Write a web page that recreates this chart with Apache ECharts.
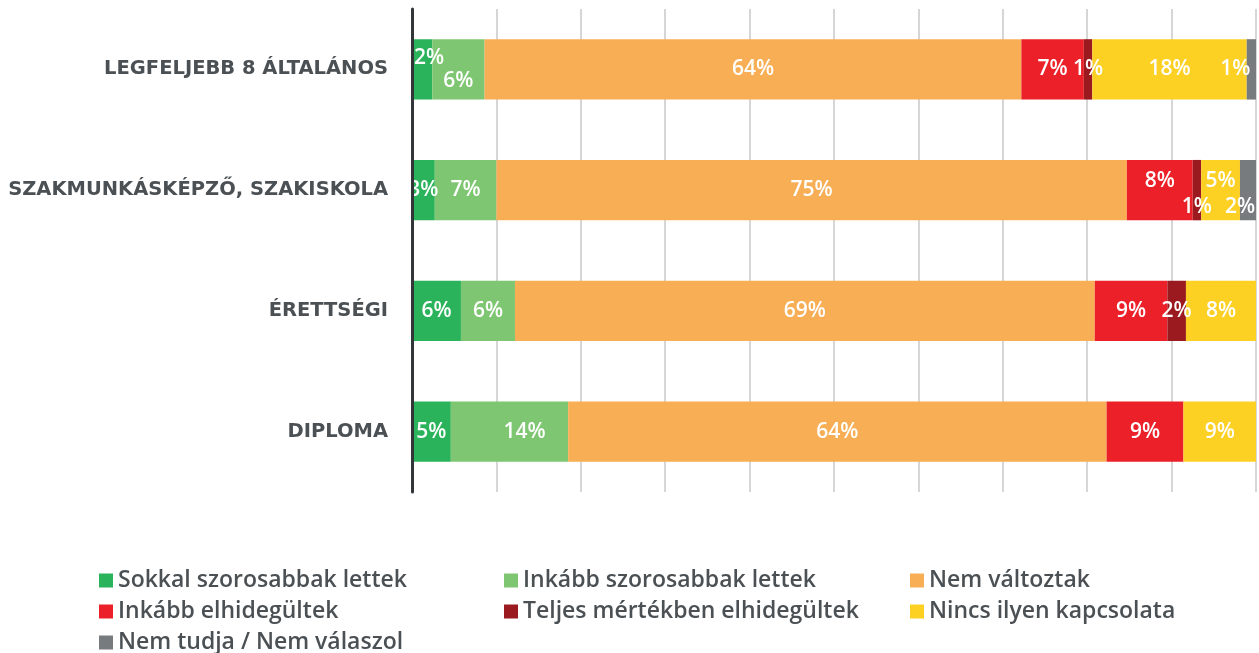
<!DOCTYPE html>
<html>
<head>
<meta charset="utf-8">
<script src="https://cdn.jsdelivr.net/npm/echarts@6/dist/echarts.min.js"></script>
<style>
  html, body { margin: 0; padding: 0; background: #fff; }
  #chart { width: 1259px; height: 653px; }
</style>
</head>
<body>
<div id="chart"></div>
<script>
// Education levels (top to bottom)
const categories = [
  'LEGFELJEBB 8 ÁLTALÁNOS',
  'SZAKMUNKÁSKÉPZŐ, SZAKISKOLA',
  'ÉRETTSÉGI',
  'DIPLOMA'
];

// Answer shares in percent, one array per answer, in category order
const sokkalSzorosabbak   = [2.4, 2.7, 5.8, 4.6];
const inkabbSzorosabbak   = [6.2, 7.3, 6.4, 13.9];
const nemValtoztak        = [63.6, 74.7, 68.7, 63.8];
const inkabbElhidegultek  = [7.4, 7.8, 8.6, 9.1];
const teljesenElhidegultek = [1.0, 1.0, 2.2, 0];
const nincsKapcsolata     = [18.3, 4.6, 8.3, 8.6];
const nemTudja            = [1.1, 1.9, 0, 0];

const seriesNames = [
  'Sokkal szorosabbak lettek',
  'Inkább szorosabbak lettek',
  'Nem változtak',
  'Inkább elhidegültek',
  'Teljes mértékben elhidegültek',
  'Nincs ilyen kapcsolata',
  'Nem tudja / Nem válaszol'
];
const seriesValues = [
  sokkalSzorosabbak, inkabbSzorosabbak, nemValtoztak,
  inkabbElhidegultek, teljesenElhidegultek, nincsKapcsolata, nemTudja
];
const colors = ['#2ab35b', '#7ec671', '#f7ae55', '#ec2029', '#9b1a20', '#fdd024', '#787b7d'];

// Nudges for labels of narrow segments so they don't collide: [series][category] -> [dx, dy]
const labelNudge = {
  '0-0': [7, -11], '1-0': [0, 12],
  '6-0': [-16, 0],
  '3-1': [0, -9], '4-1': [0, 17], '5-1': [0, -9], '6-1': [-8, 17],
  '1-3': [15, 0]
};

const series = seriesNames.map((name, si) => ({
  name,
  type: 'bar',
  stack: 'total',
  barWidth: '50%',
  itemStyle: { color: colors[si] },
  label: {
    show: true,
    position: 'inside',
    color: '#fff',
    fontFamily: 'Open Sans',
    fontWeight: 600,
    fontSize: 21,
    formatter: p => (p.value > 0 ? Math.round(p.value) + '%' : '')
  },
  data: seriesValues[si].map((v, ci) => {
    const n = labelNudge[si + '-' + ci];
    return n ? { value: v, label: { offset: n } } : v;
  })
}));

const legendText = {
  color: '#4b5054',
  fontFamily: 'Open Sans',
  fontWeight: 600,
  fontSize: 23
};
const legendBase = {
  orient: 'vertical',
  top: 569,
  height: 90,
  padding: 0,
  icon: 'rect',
  itemWidth: 14,
  itemHeight: 14,
  itemGap: 8,
  selectedMode: false,
  textStyle: legendText
};

const option = {
  animation: false,
  color: colors,
  grid: { left: 412, right: 3, top: 9, bottom: 161, containLabel: false },
  xAxis: {
    type: 'value',
    min: 0,
    max: 100,
    interval: 10,
    axisLine: { show: false },
    axisTick: { show: false },
    axisLabel: { show: false },
    splitLine: { show: true, lineStyle: { color: '#d6d6d6', width: 2 } }
  },
  yAxis: {
    type: 'category',
    data: categories,
    inverse: true,
    z: 5,
    axisLine: { show: true, lineStyle: { color: '#333639', width: 3 } },
    axisTick: { show: false },
    axisLabel: {
      margin: 24,
      color: '#4b5054',
      fontFamily: 'DejaVu Sans',
      fontWeight: 700,
      fontSize: 19.5
    }
  },
  legend: [
    Object.assign({}, legendBase, { left: 99, data: [seriesNames[0], seriesNames[3], seriesNames[6]] }),
    Object.assign({}, legendBase, { left: 504, data: [seriesNames[1], seriesNames[4]] }),
    Object.assign({}, legendBase, { left: 910, data: [seriesNames[2], seriesNames[5]] })
  ],
  series
};

const chart = echarts.init(document.getElementById('chart'), null, { renderer: 'canvas' });
chart.setOption(option);
</script>
</body>
</html>
